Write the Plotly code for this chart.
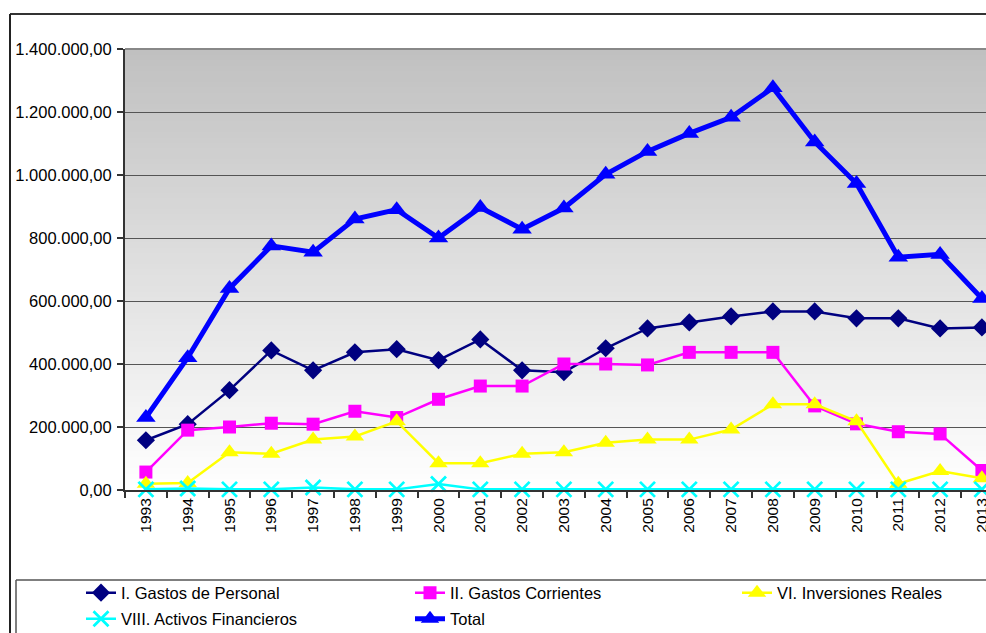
import plotly.graph_objects as go

years = [str(y) for y in range(1993, 2014)]

gastos_personal = [158000, 209000, 317000, 443000, 380000, 437000, 447000, 412000, 478000, 380000,
                   374000, 450000, 513000, 532000, 551000, 567000, 567000, 545000, 545000, 513000, 516000]
gastos_corrientes = [57000, 190000, 200000, 212000, 209000, 250000, 230000, 288000, 330000, 330000,
                     400000, 400000, 397000, 437000, 437000, 437000, 267000, 210000, 185000, 178000, 62000]
inversiones_reales = [20000, 22000, 120000, 115000, 160000, 170000, 218000, 85000, 85000, 115000,
                      120000, 150000, 160000, 160000, 192000, 272000, 272000, 218000, 20000, 60000, 37000]
activos_financieros = [2000, 5000, 2000, 2000, 8000, 2000, 2000, 19000, 2000, 2000,
                       2000, 2000, 2000, 2000, 2000, 2000, 2000, 2000, 2000, 2000, 2000]
total = [230000, 420000, 640000, 775000, 755000, 860000, 890000, 800000, 897000, 828000,
         895000, 1002000, 1075000, 1132000, 1183000, 1277000, 1105000, 973000, 739000, 748000, 608000]

y_ticks = [0, 200000, 400000, 600000, 800000, 1000000, 1200000, 1400000]

W, H = 986, 633
PL, PT, PB = 125, 49, 490          # plot area pixel bounds
PR = 986
PW, PH = PR - PL, PB - PT
step = 41.8                          # px per category


def px(x):
    return (x - PL) / PW


def py(y):
    return (PB - y) / PH


FONT = "Liberation Sans, Arial, sans-serif"

fig = go.Figure()

series = [
    ("I. Gastos de Personal", gastos_personal, "#000080", 2.5, "diamond", 14, "legend"),
    ("II. Gastos Corrientes", gastos_corrientes, "#FF00FF", 2.5, "square", 13, "legend2"),
    ("VI. Inversiones Reales", inversiones_reales, "#FFFF00", 2.5, "triangle-up", 16, "legend3"),
    ("VIII. Activos Financieros", activos_financieros, "#00FFFF", 2.5, "x-thin", 15, "legend4"),
    ("Total", total, "#0000FF", 5, "triangle-up", 17, "legend5"),
]

for name, vals, col, lw, sym, ms, lg in series:
    marker = dict(symbol=sym, size=ms, color=col)
    if sym == "x-thin":
        marker["line"] = dict(color=col, width=2.8)
    fig.add_trace(go.Scatter(
        x=years, y=vals, name=name, mode="lines+markers",
        line=dict(color=col, width=lw), marker=marker,
        cliponaxis=False, legend=lg, hoverinfo="skip",
    ))

# gradient background
shapes = []
N = 80
top_c, bot_c = 192, 255
for i in range(N):
    f0 = i / N
    f1 = (i + 1) / N
    c = int(round(bot_c + (top_c - bot_c) * (f0 + f1) / 2))
    shapes.append(dict(type="rect", xref="paper", yref="paper", x0=0, x1=1.01,
                       y0=f0, y1=f1 + 0.002, fillcolor=f"rgb({c},{c},{c})",
                       line=dict(width=0), layer="below"))

# outer chart border (top and left)
shapes.append(dict(type="line", xref="paper", yref="paper", x0=px(10), x1=px(990),
                   y0=py(14), y1=py(14), line=dict(color="#333333", width=2)))
shapes.append(dict(type="line", xref="paper", yref="paper", x0=px(10), x1=px(10),
                   y0=py(14), y1=py(640), line=dict(color="#222222", width=2)))
# plot top border
shapes.append(dict(type="line", xref="paper", yref="paper", x0=0, x1=1.01,
                   y0=1, y1=1, line=dict(color="#888888", width=2)))
# legend box
shapes.append(dict(type="line", xref="paper", yref="paper", x0=px(16), x1=px(990),
                   y0=py(580), y1=py(580), line=dict(color="#555555", width=1.5)))
shapes.append(dict(type="line", xref="paper", yref="paper", x0=px(16), x1=px(16),
                   y0=py(580), y1=py(640), line=dict(color="#555555", width=1.5)))

fig.update_layout(shapes=shapes)

legend_font = dict(family=FONT, size=16.5, color="#000000")
text_starts = {"legend": (120, 593), "legend2": (449, 593), "legend3": (776, 593),
               "legend4": (120, 619), "legend5": (449, 619)}
for lg, (tx, ty) in text_starts.items():
    fig.update_layout(**{lg: dict(
        x=px(tx - 39), y=py(ty), xanchor="left", yanchor="middle",
        bgcolor="rgba(0,0,0,0)", borderwidth=0, font=legend_font,
        itemwidth=30, orientation="v",
    )})

fig.update_layout(
    width=W, height=H,
    margin=dict(l=PL, r=W - PR, t=PT, b=H - PB, pad=0, autoexpand=False),
    paper_bgcolor="white", plot_bgcolor="rgba(0,0,0,0)",
    separators=",.",
    showlegend=True,
    font=dict(family=FONT, size=16.5, color="#000000"),
    xaxis=dict(
        type="category", range=[-0.5, -0.5 + PW / step],
        tickangle=-90, tickson="boundaries", ticks="outside", ticklen=6,
        tickcolor="#333333", tickwidth=1.5,
        showline=True, linecolor="#333333", linewidth=2,
        showgrid=False, zeroline=False, automargin=False,
        tickfont=dict(family=FONT, size=15.5, color="#000000"),
    ),
    yaxis=dict(
        range=[0, 1400000], tickvals=y_ticks, tickformat=",.2f",
        ticks="outside", ticklen=6, tickcolor="#333333", tickwidth=1.5,
        showline=True, linecolor="#333333", linewidth=2,
        showgrid=True, gridcolor="#555555", gridwidth=1,
        zeroline=False, ticklabelstandoff=2, automargin=False,
        tickfont=dict(family=FONT, size=16.5, color="#000000"),
    ),
)

fig.write_html("out.html", config={"displayModeBar": False},
               post_script="document.body.style.margin='0';document.body.style.overflow='hidden';")
